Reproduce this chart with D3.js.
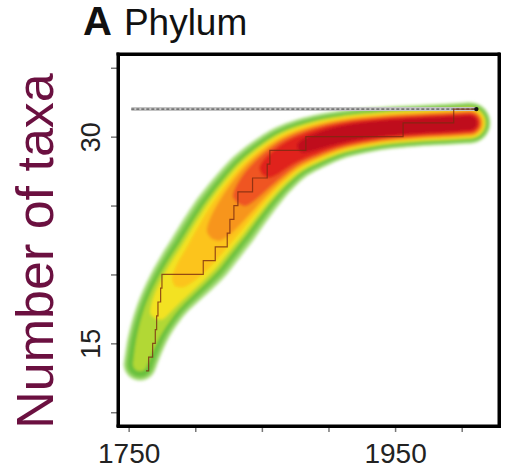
<!DOCTYPE html>
<html><head><meta charset="utf-8">
<script src="https://cdn.jsdelivr.net/npm/d3@7"></script>
<style>body{margin:0;background:#fff}</style>
</head><body>
<svg id="chart" width="506" height="474"></svg>
<script>
// ---- data ----
const stepYears = [1763,1765,1768,1770,1771,1772,1774,1775,1806,1815,1824,1826,1829,1832,1843,1854,1856,1883,1956,1994,2011];
const stepTaxa  = [13,14,15,16,17,18,19,20,21,22,23,24,25,26,27,28,29,30,31,32,32];

const bandYears  = [1758.5,1762.3,1766.8,1772.0,1778.0,1785.5,1794.5,1803.6,1812.6,1822.3,1833.6,1845.6,1857.6,1871.1,1888.4,1908.7,1938.7,1968.7,1991.2,2006.2];
const bandTaxa   = [13.48,14.86,16.10,17.19,18.21,19.23,20.32,21.41,22.65,23.96,25.41,26.79,27.88,28.83,29.56,30.14,30.58,30.80,30.91,31.00];
const bandSpread = [1.20,1.36,1.50,1.66,1.82,2.04,2.26,2.42,2.50,2.56,2.50,2.42,2.27,2.12,1.96,1.74,1.56,1.50,1.50,1.50];
const bandPeak   = [0.36,0.39,0.43,0.48,0.53,0.58,0.62,0.65,0.69,0.74,0.80,0.86,0.91,0.94,0.97,0.99,1.00,1.00,1.00,0.99];

const refTaxa  = 32;
const refYears = [1752, 2011];

const xTicks  = [1750,1800,1850,1900,1950,2000];
const xLabels = ["1750","","","","1950",""];
const yTicks  = [10,15,20,25,30,35];
const yLabels = ["","15","","","30",""];

const titleLetter = "A";
const titleText = "Phylum";
const yTitle = "Number of taxa";

// ---- drawing ----
(function(){
const svg = d3.select("#chart");
const pL = 118, pR = 499, pT = 54, pB = 426;
const x = d3.scaleLinear().domain([1742, 2028]).range([pL, pR]);
const y = d3.scaleLinear().domain([9, 36]).range([pB, pT]);

const defs = svg.append("defs");
const f = defs.append("filter").attr("id","heatblur")
  .attr("filterUnits","userSpaceOnUse")
  .attr("x",pL).attr("y",pT).attr("width",pR-pL).attr("height",pB-pT);
f.append("feGaussianBlur").attr("stdDeviation", 1.8);

// heat band
const levels = [0.06,0.12,0.22,0.34,0.46,0.58,0.69,0.79,0.88,0.95];
const levelColors = ["#b6e38c","#86cd52","#68c03c","#b2d834","#f3e220","#fcc41d","#f7951f","#ef5520","#e0221e","#bf111b"];

const centre = bandYears.map((yr,i)=>[x(yr), y(bandTaxa[i])]);
const cPath = svg.append("path").attr("d", d3.line().curve(d3.curveCatmullRom.alpha(0.5))(centre))
  .attr("fill","none").attr("stroke","none");
const node = cPath.node();
const L = node.getTotalLength();
const samples = [];
for (let s = 0; s <= L; s += 2) samples.push(node.getPointAtLength(Math.min(s, L)));
if (L - (samples.length-1)*2 > 0.5) samples.push(node.getPointAtLength(L));
cPath.remove();
const spreadAt = d3.scaleLinear().domain(bandYears).range(bandSpread).clamp(true);
const peakAt = d3.scaleLinear().domain(bandYears).range(bandPeak).clamp(true);
const pxPerTaxon = y(0) - y(1);

const pts = samples.map((p,i)=>{
  const a = samples[Math.max(0,i-1)], b = samples[Math.min(samples.length-1,i+1)];
  let dx = b.x - a.x, dy = b.y - a.y; const len = Math.hypot(dx,dy) || 1;
  const yr = x.invert(p.x);
  return {x:p.x, y:p.y, nx:-dy/len, ny:dx/len, H: spreadAt(yr)*pxPerTaxon, P: peakAt(yr)};
});
const t0 = levels[0];
function hw(pt, t){
  if (pt.P <= t) return 0;
  return pt.H * Math.pow(Math.log(pt.P/t)/Math.log(pt.P/t0), 0.25);
}
const heat = svg.append("g").attr("filter","url(#heatblur)");
levels.forEach((t,k)=>{
  const ws = pts.map(p=>hw(p,t));
  const leftSide = pts.map((p,i)=>[p.x + p.nx*ws[i], p.y + p.ny*ws[i]]);
  const rightSide = pts.map((p,i)=>[p.x - p.nx*ws[i], p.y - p.ny*ws[i]]).reverse();
  heat.append("path").attr("d", "M" + leftSide.concat(rightSide).map(d=>d.join(",")).join("L") + "Z")
    .attr("fill", levelColors[k]);
  const e0 = ws[0], e1 = ws[ws.length-1];
  if (e0 > 0) heat.append("circle").attr("cx",pts[0].x).attr("cy",pts[0].y).attr("r",e0).attr("fill",levelColors[k]);
  if (e1 > 0) heat.append("circle").attr("cx",pts[pts.length-1].x).attr("cy",pts[pts.length-1].y).attr("r",e1).attr("fill",levelColors[k]);
});

// reference dotted line
svg.append("line").attr("x1",x(refYears[0])).attr("x2",x(refYears[1]))
  .attr("y1",y(refTaxa)).attr("y2",y(refTaxa))
  .attr("stroke","#c4c4c4").attr("stroke-width",4);
svg.append("line").attr("x1",x(refYears[0])).attr("x2",x(refYears[1]))
  .attr("y1",y(refTaxa)).attr("y2",y(refTaxa))
  .attr("stroke","#767676").attr("stroke-width",1.6).attr("stroke-dasharray","3,2");

// step line
const stepData = stepYears.map((yr,i)=>[yr, stepTaxa[i]]);
svg.append("path")
  .attr("d", d3.line().x(d=>x(d[0])).y(d=>y(d[1])).curve(d3.curveStepAfter)(stepData))
  .attr("fill","none").attr("stroke","#7a2a10").attr("stroke-opacity",0.8).attr("stroke-width",1.2);
svg.append("circle").attr("cx",x(stepYears[stepYears.length-1])).attr("cy",y(stepTaxa[stepTaxa.length-1]))
  .attr("r",2.2).attr("fill","#111");

// axes with ticks (no domain)
const fontF = "'Liberation Sans', Arial, sans-serif";
const gx = svg.append("g").attr("transform",`translate(0,${pB})`)
  .call(d3.axisBottom(x).tickValues(xTicks).tickSize(6).tickSizeOuter(0).tickPadding(8).tickFormat((d,i)=>xLabels[i]));
gx.select(".domain").remove();
gx.selectAll(".tick line").attr("stroke","#777").attr("stroke-width",1.5);
gx.selectAll(".tick text").attr("font-family",fontF)
  .attr("font-size",28).attr("fill","#222").attr("dy",null).attr("y",37);

const gy = svg.append("g").attr("transform",`translate(${pL},0)`)
  .call(d3.axisLeft(y).tickValues(yTicks).tickSize(7).tickSizeOuter(0).tickFormat((d,i)=>yLabels[i]));
gy.select(".domain").remove();
gy.selectAll(".tick line").attr("stroke","#777").attr("stroke-width",1.5);
gy.selectAll(".tick text").attr("font-family",fontF)
  .attr("font-size",27).attr("fill","#222")
  .attr("x",null).attr("dy",null)
  .attr("text-anchor","middle")
  .attr("transform","translate(-18,0) rotate(-90)");

// frame: four tick-less axes
const frame = svg.append("g");
frame.append("g").attr("transform",`translate(0,${pT})`).call(d3.axisTop(x).tickValues([]).tickSizeOuter(0));
frame.append("g").attr("transform",`translate(${pR},0)`).call(d3.axisRight(y).tickValues([]).tickSizeOuter(0));
frame.append("g").attr("transform",`translate(0,${pB})`).call(d3.axisBottom(x).tickValues([]).tickSizeOuter(0));
frame.append("g").attr("transform",`translate(${pL},0)`).call(d3.axisLeft(y).tickValues([]).tickSizeOuter(0));
frame.selectAll(".domain").attr("stroke","#000").attr("stroke-width",3).attr("stroke-linecap","square");

// filled bars along each frame edge (from the scale ranges)
const [xa, xb] = x.range(), [yb, ya] = y.range();
const bw = 3;
const edges = [
  {x: xa - bw/2, y: ya - bw/2, w: xb - xa + bw, h: bw},
  {x: xa - bw/2, y: yb - bw/2, w: xb - xa + bw, h: bw},
  {x: xa - bw/2, y: ya - bw/2, w: bw, h: yb - ya + bw},
  {x: xb - bw/2, y: ya - bw/2, w: bw, h: yb - ya + bw}
];
svg.append("g").attr("class","frame-bars").selectAll("rect").data(edges).join("rect")
  .attr("x", d=>d.x).attr("y", d=>d.y).attr("width", d=>d.w).attr("height", d=>d.h)
  .attr("fill","#000");

// titles
const tt = svg.append("text").attr("x",83).attr("y",35)
  .attr("font-family",fontF).attr("fill","#111");
tt.append("tspan").attr("font-weight","bold").attr("font-size",40).text(titleLetter);
tt.append("tspan").attr("font-size",37).attr("dx",12).text(titleText);

svg.append("text").attr("transform","translate(53,251) rotate(-90)")
  .attr("text-anchor","middle").attr("font-family",fontF)
  .attr("font-size",52).attr("fill","#6b1040").text(yTitle);
})();
</script>
</body></html>
